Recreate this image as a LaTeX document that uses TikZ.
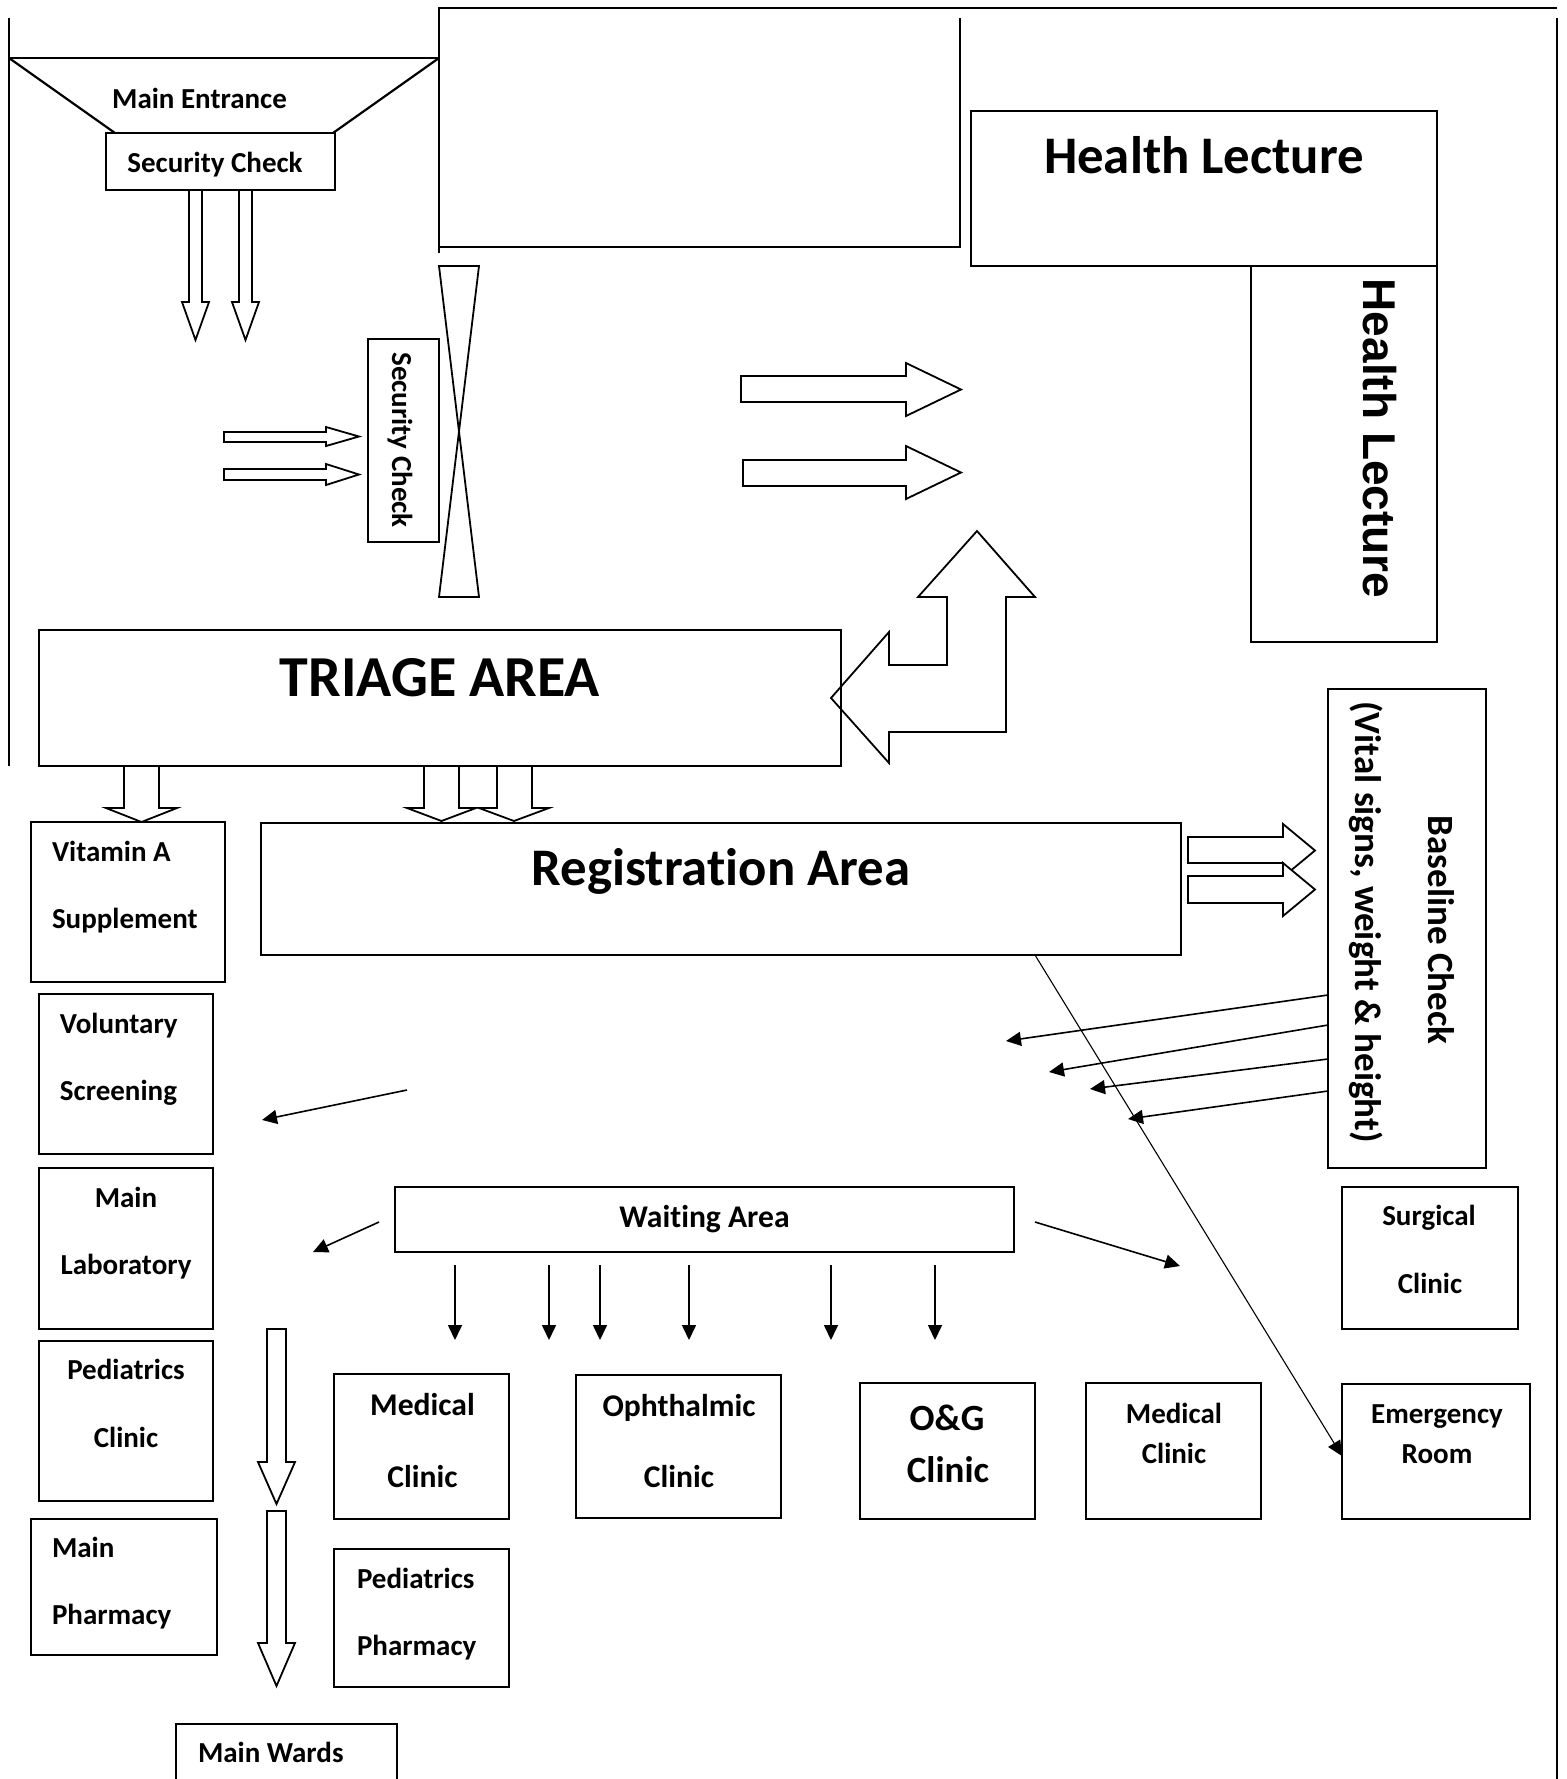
\documentclass[tikz,border=0pt]{standalone}
\usepackage{fontspec}
\setmainfont{Carlito}[Ligatures=CommonOff]
\newfontfamily\arialf{Liberation Sans}[Ligatures=CommonOff]
\usetikzlibrary{arrows.meta,fit}
\newcommand\fs[1]{\fontsize{#1}{#1}\selectfont\bfseries}
\newcommand\blkdown[7]{% xl xr ytop yhead hl hr tipy
  \draw[blockarrow] (#1,#3) -- (#1,#4) -- (#5,#4) -- ({(#5+#6)/2},#7) -- (#6,#4) -- (#2,#4) -- (#2,#3) -- cycle;}
\newcommand\blkright[7]{% xl xr yt yb ht hb tipx
  \draw[blockarrow] (#1,#3) -- (#2,#3) -- (#2,#5) -- (#7,{(#5+#6)/2}) -- (#2,#6) -- (#2,#4) -- (#1,#4) -- cycle;}
\tikzset{
  wall/.style={line width=1.1pt},
  room/.style={draw, line width=1.1pt, inner sep=0pt, outer sep=0pt},
  blockarrow/.style={draw, fill=white, line width=0.9pt, line join=miter},
  thinarrow/.style={line width=0.8pt, -{Triangle[length=7.5pt,width=7pt]}},
  lbl/.style={inner sep=0pt, outer sep=0pt, anchor=base},
  tA/.style={lbl, font=\fs{14.5pt}},
  tB/.style={lbl, font=\fs{15.8pt}},
  tC/.style={lbl, font=\fs{18.5pt}},
  tD/.style={lbl, font=\fs{26.4pt}},
  tE/.style={lbl, font=\fs{29pt}},
}
\begin{document}
\begin{tikzpicture}[x=0.5pt,y=-0.5pt]
\useasboundingbox (0,0) rectangle (1567,1779);
\fill[white] (0,0) rectangle (1567,1779);
\clip (0,0) rectangle (1567,1779);

% walls and entrance
\draw[wall] (9,18) -- (9,766);
\draw[wall] (9,58) -- (439,58);
\draw[wall] (9,58) -- (115,133);
\draw[wall] (439,58) -- (333,133);
\draw[wall] (439,253) -- (439,8) -- (1557,8);
\draw[wall] (1557,18) -- (1557,1790);
\draw[wall] (960,18) -- (960,247) -- (439,247);

% hourglass gate
\draw[line width=0.9pt] (439,266) -- (479,266) -- (439,597) -- (479,597) -- cycle;

% rooms
\node[room, fit={(106,133) (335,190)}] (sec1) {};
\node[room, fit={(368,339) (439,542)}] (sec2) {};
\node[room, fit={(971,111) (1437,266)}] (hl1) {};
\node[room, fit={(1251,266) (1437,642)}] (hl2) {};
\node[room, fit={(39,630) (841,766)}] (triage) {};
\node[room, fit={(261,823) (1181,955)}] (reg) {};
\node[room, fit={(1328,689) (1486,1168)}] (base) {};
\node[room, fit={(31,822) (225,982)}] (vita) {};
\node[room, fit={(39,994) (213,1154)}] (volu) {};
\node[room, fit={(39,1168) (213,1329)}] (lab) {};
\node[room, fit={(39,1341) (213,1501)}] (pedc) {};
\node[room, fit={(31,1519) (217,1655)}] (mph) {};
\node[room, fit={(176,1724) (397,1800)}] (wards) {};
\node[room, fit={(395,1187) (1014,1252)}] (wait) {};
\node[room, fit={(334,1374) (509,1519)}] (med1) {};
\node[room, fit={(334,1549) (509,1687)}] (pph) {};
\node[room, fit={(576,1375) (781,1518)}] (oph) {};
\node[room, fit={(860,1383) (1035,1519)}] (og) {};
\node[room, fit={(1086,1383) (1261,1519)}] (med2) {};
\node[room, fit={(1342,1187) (1518,1329)}] (surg) {};
\node[room, fit={(1342,1384) (1530,1519)}] (er) {};

% texts
\node[tA] (t1) at (199.5,108) {Main Entrance};
\node[tA] (t2) at (215,172) {Security Check};
\node[tA, rotate=-90] (t3) at (392,440) {Security Check};
\node[tD] (t4) at (1204,173) {Health Lecture};
\node[lbl, rotate=-90, font={\arialf\fontsize{23pt}{23pt}\selectfont\bfseries}] (t5) at (1363,438.5) {Health Lecture};
\node[tE] (t6) at (440,696) {TRIAGE AREA};
\node[tD] (t7) at (721,885) {Registrat\kern0pt ion Area};
\node[tC, rotate=-90] (t8) at (1428,930) {Baseline Check};
\node[tC, rotate=-90] (t9) at (1355,922) {(Vital signs, weight \& height)};
\node[tA, anchor=base west] (t10) at (52,861) {Vitamin A};
\node[tA, anchor=base west] (t11) at (52,928) {Supplement};
\node[tA, anchor=base west] (t12) at (60,1033) {Voluntary};
\node[tA, anchor=base west] (t13) at (60,1100) {Screening};
\node[tA] (t14) at (126,1207) {Main};
\node[tA] (t15) at (126,1274) {Laboratory};
\node[tA] (t16) at (126,1379) {Pediatrics};
\node[tA] (t17) at (126,1447) {Clinic};
\node[tA, anchor=base west] (t18) at (52,1557) {Main};
\node[tA, anchor=base west] (t19) at (52,1624) {Pharmacy};
\node[tA, anchor=base west] (t20) at (198,1762) {Main Wards};
\node[tB] (t21) at (704.5,1227) {Wait\kern0pt ing Area};
\node[tB] (t22) at (422.5,1415) {Medical};
\node[tB] (t23) at (422.5,1487) {Clinic};
\node[tA, anchor=base west] (t24) at (357,1588) {Pediatrics};
\node[tA, anchor=base west] (t25) at (357,1655) {Pharmacy};
\node[tB] (t26) at (679,1416) {Ophthalmic};
\node[tB] (t27) at (679,1487) {Clinic};
\node[tC] (t28) at (947,1430) {O\&G};
\node[tC] (t29) at (948,1482) {Clinic};
\node[tA] (t30) at (1174,1423) {Medical};
\node[tA] (t31) at (1174,1463) {Clinic};
\node[tA] (t32) at (1429,1225) {Surgical};
\node[tA] (t33) at (1430,1293) {Clinic};
\node[tA] (t34) at (1437,1423) {Emergency};
\node[tA] (t35) at (1437,1463) {Room};

% block arrows
\blkdown{189}{202}{190}{302}{182}{209}{340}
\blkdown{239}{252}{190}{302}{232}{259}{340}
\blkright{224}{326}{432}{442}{427}{446}{359}
\blkright{224}{326}{469}{480}{464}{485}{359}
\blkright{741}{906}{376}{402}{363}{416}{961}
\blkright{743}{906}{460}{486}{446}{499}{961}
\blkdown{124}{159}{766}{808}{106}{177}{822}
\blkdown{424}{459}{766}{808}{407}{476}{821}
\blkdown{497}{532}{766}{808}{479}{549}{821}
\blkright{1188}{1283}{837}{863}{824}{877}{1315}
\blkright{1188}{1283}{876}{903}{863}{916}{1315}
\blkdown{267}{286}{1329}{1462}{258}{295}{1504}
\blkdown{267}{286}{1511}{1643}{258}{295}{1686}
\draw[line width=0.9pt, line join=miter] (977,531) -- (1035,597) -- (1006,597) -- (1006,732) -- (889,732) -- (889,763) -- (831,698) -- (889,632) -- (889,665) -- (947,665) -- (947,597) -- (918,597) -- cycle;

% thin connectors
\coordinate (a1) at (407,1090); \coordinate (b1) at (262,1120);
\coordinate (a2) at (379,1222); \coordinate (b2) at (313,1252);
\coordinate (a3) at (1035,1222); \coordinate (b3) at (1180,1266);
\draw[thinarrow] (a1) -- (b1);
\draw[thinarrow] (a2) -- (b2);
\draw[thinarrow] (a3) -- (b3);
\foreach \x [count=\i] in {455,549,600,689,831,935} {
  \coordinate (d\i) at (\x,1265); \coordinate (e\i) at (\x,1340);
  \draw[thinarrow] (d\i) -- (e\i);
}
\coordinate (f1) at (1328,995);  \coordinate (g1) at (1006,1041);
\coordinate (f2) at (1328,1025); \coordinate (g2) at (1049,1072);
\coordinate (f3) at (1328,1059); \coordinate (g3) at (1090,1089);
\coordinate (f4) at (1328,1091); \coordinate (g4) at (1128,1119);
\foreach \i in {1,2,3,4} { \draw[thinarrow] (f\i) -- (g\i); }
\coordinate (r1) at (1035,955); \coordinate (r2) at (1342,1456);
\draw[line width=0.55pt, -{Triangle[length=7.5pt,width=7pt]}] (r1) -- (r2);
\end{tikzpicture}
\end{document}
